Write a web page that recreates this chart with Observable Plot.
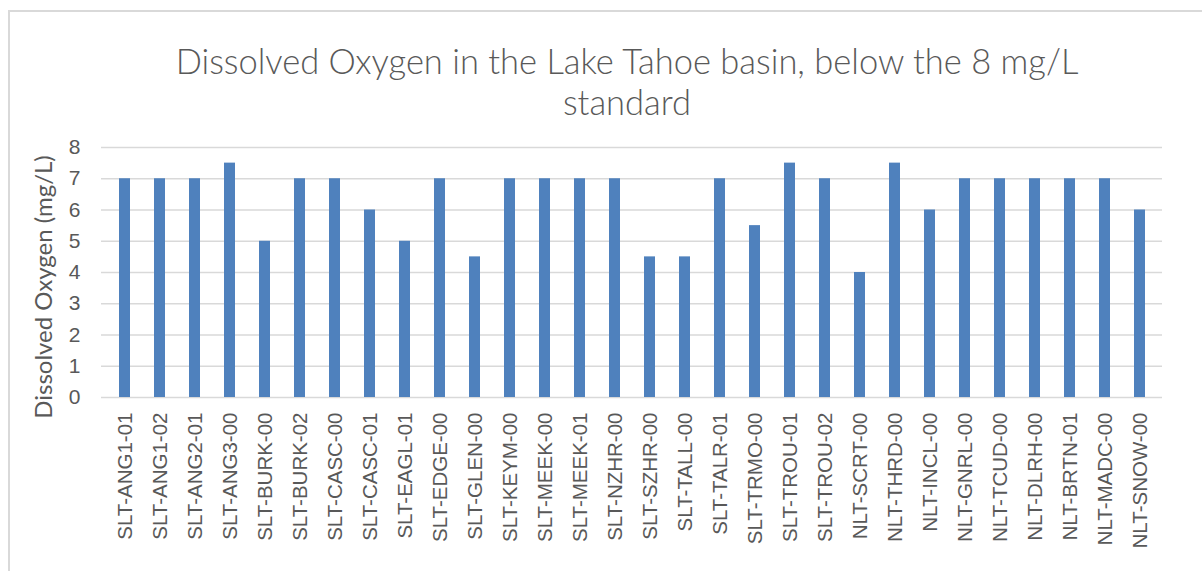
<!DOCTYPE html>
<html>
<head>
<meta charset="utf-8">
<script src="https://cdn.jsdelivr.net/npm/d3@7"></script>
<script src="https://cdn.jsdelivr.net/npm/@observablehq/plot@0.6"></script>
<style>
  html, body { margin: 0; padding: 0; background: #fff; overflow: hidden; }
  #wrap { position: relative; width: 1202px; height: 571px; overflow: hidden; }
  #frame { position: absolute; left: 8px; top: 10px; width: 1300px; height: 700px; border: 2px solid #d9d9d9; box-sizing: border-box; }
  #title { position: absolute; left: 142px; width: 970px; top: 40px; text-align: center;
           font-family: Lato, "Open Sans", sans-serif; font-weight: 300; font-size: 34.5px; line-height: 41px; color: #595959; }
  #ylabel { position: absolute; left: 42px; top: 287px; transform: translate(-50%, -50%) rotate(-90deg);
            white-space: nowrap; font-family: Lato, "Open Sans", sans-serif; font-size: 24px; color: #595959; }
  #chart { position: absolute; left: 0; top: 0; }
</style>
</head>
<body>
<div id="wrap">
  <div id="frame"></div>
  <div id="chart"></div>
  <div id="title">Dissolved Oxygen in the Lake Tahoe basin, below the 8 mg/L standard</div>
  <div id="ylabel">Dissolved Oxygen (mg/L)</div>
</div>
<script>
const stations = [
  "SLT-ANG1-01", "SLT-ANG1-02", "SLT-ANG2-01", "SLT-ANG3-00", "SLT-BURK-00",
  "SLT-BURK-02", "SLT-CASC-00", "SLT-CASC-01", "SLT-EAGL-01", "SLT-EDGE-00",
  "SLT-GLEN-00", "SLT-KEYM-00", "SLT-MEEK-00", "SLT-MEEK-01", "SLT-NZHR-00",
  "SLT-SZHR-00", "SLT-TALL-00", "SLT-TALR-01", "SLT-TRMO-00", "SLT-TROU-01",
  "SLT-TROU-02", "NLT-SCRT-00", "NLT-THRD-00", "NLT-INCL-00", "NLT-GNRL-00",
  "NLT-TCUD-00", "NLT-DLRH-00", "NLT-BRTN-01", "NLT-MADC-00", "NLT-SNOW-00"
];
const doValues = [
  7, 7, 7, 7.5, 5,
  7, 7, 6, 5, 7,
  4.5, 7, 7, 7, 7,
  4.5, 4.5, 7, 5.5, 7.5,
  7, 4, 7.5, 6, 7,
  7, 7, 7, 7, 6
];
const yTicks = [0, 1, 2, 3, 4, 5, 6, 7, 8];

const data = stations.map((s, i) => ({station: s, value: doValues[i]}));

const chart = Plot.plot({
  width: 1202,
  height: 571,
  marginTop: 147,
  marginBottom: 174,
  marginLeft: 101,
  marginRight: 40,
  style: { fontFamily: "'Liberation Sans', Arial, sans-serif", color: "#595959", background: "transparent" },
  x: { domain: stations, paddingInner: 0.69, paddingOuter: 0.345, label: null },
  y: { domain: [0, 8], label: null },
  marks: [
    Plot.gridY(yTicks, { stroke: "#d9d9d9", strokeOpacity: 1, strokeWidth: 1.5 }),
    Plot.barY(data, { x: "station", y: "value", fill: "#4f81bd" }),
    Plot.axisY(yTicks, { tickSize: 0, tickPadding: 21, fontSize: 21, label: null, tickFormat: d => String(d) }),
    Plot.axisX({ tickRotate: -90, tickSize: 0, tickPadding: 15, fontSize: 20.5, label: null })
  ]
});
document.getElementById("chart").appendChild(chart);
</script>
</body>
</html>
